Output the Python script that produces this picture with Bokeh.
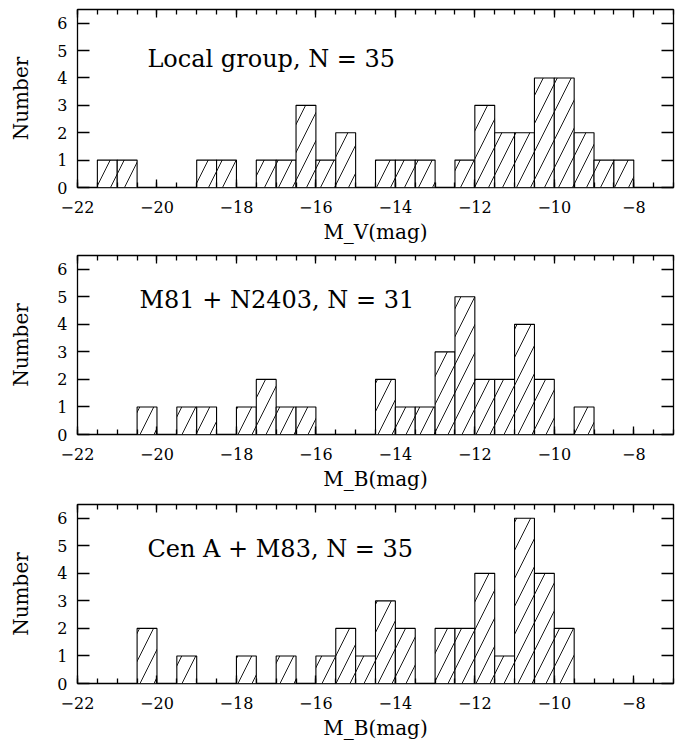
from bokeh.plotting import figure
from bokeh.layouts import column
from bokeh.models import LinearAxis, Range1d, Label, FixedTicker
from bokeh.embed import file_html
from bokeh.resources import INLINE

# ---- data ----
bin_width = 0.5
lg_left = [-21.5, -21, -19, -18.5, -17.5, -17, -16.5, -16, -15.5, -14.5, -14, -13.5,
           -12.5, -12, -11.5, -11, -10.5, -10, -9.5, -9, -8.5]
lg_counts = [1, 1, 1, 1, 1, 1, 3, 1, 2, 1, 1, 1, 1, 3, 2, 2, 4, 4, 2, 1, 1]

m81_left = [-20.5, -19.5, -19, -18, -17.5, -17, -16.5, -14.5, -14, -13.5, -13, -12.5,
            -12, -11.5, -11, -10.5, -9.5]
m81_counts = [1, 1, 1, 1, 2, 1, 1, 2, 1, 1, 3, 5, 2, 2, 4, 2, 1]

cen_left = [-20.5, -19.5, -18, -17, -16, -15.5, -15, -14.5, -14, -13, -12.5, -12,
            -11.5, -11, -10.5, -10]
cen_counts = [2, 1, 1, 1, 1, 2, 1, 3, 2, 2, 2, 4, 1, 6, 4, 2]

titles = ["Local group, N = 35", "M81 + N2403, N = 31", "Cen A + M83, N = 35"]
x_labels = ["M_V(mag)", "M_B(mag)", "M_B(mag)"]
y_label = "Number"

x_ticks = [-22, -20, -18, -16, -14, -12, -10, -8]
x_tick_labels = ["\u221222", "\u221220", "\u221218", "\u221216", "\u221214", "\u221212", "\u221210", "\u22128"]
x_minor = [-22 + 0.5 * i for i in range(31)]
y_ticks = [0, 1, 2, 3, 4, 5, 6]

X_RANGE = (-22, -7)
Y_RANGE = (0, 6.5)

FONT = "DejaVu Serif"


def make_panel(left, counts, title, xlabel, height, border_top, border_bottom, title_xy):
    p = figure(width=681, height=height, output_backend="svg", toolbar_location=None,
               x_range=Range1d(*X_RANGE), y_range=Range1d(*Y_RANGE),
               min_border_left=77, min_border_right=8, min_border_top=border_top,
               min_border_bottom=border_bottom, x_axis_location=None, y_axis_location=None)
    p.grid.visible = False
    p.outline_line_color = "black"
    p.outline_line_width = 1.3
    p.background_fill_color = "white"
    p.border_fill_color = "white"

    right = [l + bin_width for l in left]
    p.quad(left=left, right=right, bottom=0, top=counts, fill_color="white",
           line_color="black", line_width=1.1, hatch_pattern="/", hatch_color="black",
           hatch_scale=28, hatch_weight=0.9)

    xt = FixedTicker(ticks=x_ticks, minor_ticks=x_minor)
    yt = FixedTicker(ticks=y_ticks, minor_ticks=[])

    def style(ax, tick_in, minor_in, labels):
        ax.axis_line_color = None
        ax.major_tick_in = tick_in
        ax.major_tick_out = 0
        ax.minor_tick_in = minor_in
        ax.minor_tick_out = 0
        ax.major_tick_line_color = "black"
        ax.minor_tick_line_color = "black"
        ax.major_tick_line_width = 1.3
        ax.minor_tick_line_width = 1.3
        if not labels:
            ax.major_label_text_color = None
            ax.major_label_text_font_size = "1px"
            ax.major_label_standoff = 0
        else:
            ax.major_label_text_color = "black"
            ax.axis_label_text_color = "black"

    xb = LinearAxis(ticker=xt, axis_label=xlabel)
    style(xb, 8, 5, True)
    xb.major_label_overrides = {t: s for t, s in zip(x_ticks, x_tick_labels)}
    xb.major_label_text_font = FONT
    xb.major_label_text_font_size = "16px"
    xb.major_label_standoff = 13
    xb.axis_label_text_font = FONT
    xb.axis_label_text_font_style = "normal"
    xb.axis_label_text_font_size = "20px"
    xb.axis_label_standoff = 4
    p.add_layout(xb, "below")

    xa = LinearAxis(ticker=xt)
    style(xa, 8, 5, False)
    p.add_layout(xa, "above")

    yl = LinearAxis(ticker=yt, axis_label=y_label)
    style(yl, 12, 0, True)
    yl.major_label_text_font = FONT
    yl.major_label_text_font_size = "16px"
    yl.major_label_standoff = 10
    yl.axis_label_text_font = FONT
    yl.axis_label_text_font_style = "normal"
    yl.axis_label_text_font_size = "20px"
    yl.axis_label_standoff = 21
    p.add_layout(yl, "left")

    yr = LinearAxis(ticker=yt)
    style(yr, 12, 0, False)
    p.add_layout(yr, "right")

    p.add_layout(Label(x=title_xy[0], y=title_xy[1], text=title, text_font=FONT,
                       text_font_size="24px", text_color="black",
                       text_baseline="alphabetic"))
    return p


p1 = make_panel(lg_left, lg_counts, titles[0], x_labels[0], 250, 9, 63, (-20.24, 4.71))
p2 = make_panel(m81_left, m81_counts, titles[1], x_labels[1], 249, 5, 65, (-20.44, 4.87))
p3 = make_panel(cen_left, cen_counts, titles[2], x_labels[2], 244, 5, 60, (-20.24, 4.87))

layout = column(p1, p2, p3, spacing=0)
open("out.html", "w").write(file_html(layout, INLINE))
